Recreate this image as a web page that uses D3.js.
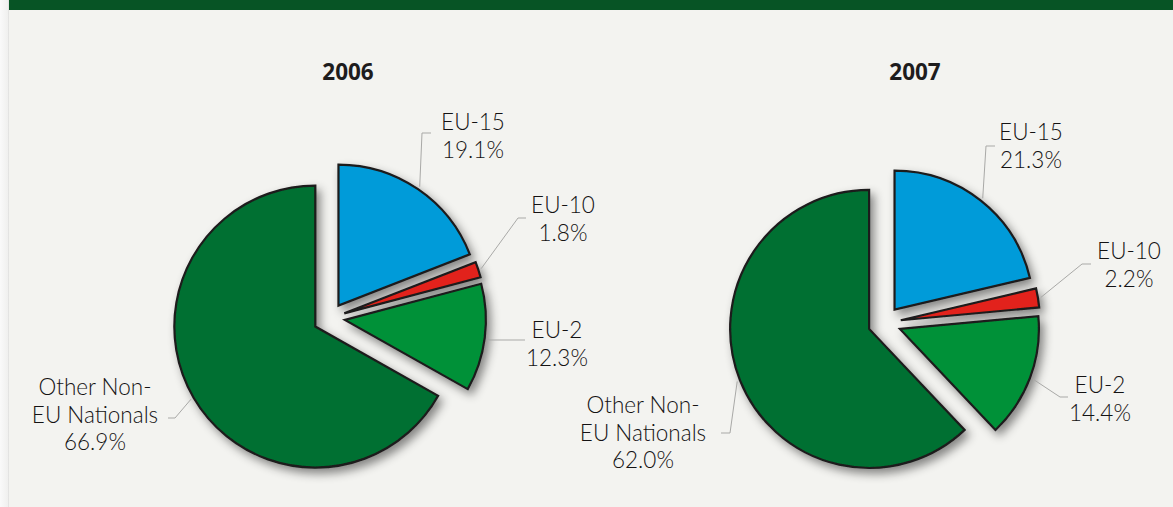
<!DOCTYPE html>
<html><head><meta charset="utf-8">
<script src="https://cdn.jsdelivr.net/npm/d3@7"></script>
<style>
html,body{margin:0;padding:0;background:#f8f8f7;}
svg{display:block;}
</style></head>
<body>
<script>
// ---- data ----
const categories = ["EU-15", "EU-10", "EU-2", "Other Non-EU Nationals"];
const labelLines = [["EU-15"], ["EU-10"], ["EU-2"], ["Other Non-", "EU Nationals"]];
const years = ["2006", "2007"];
const values2006 = [19.1, 1.8, 12.3, 66.9];
const values2007 = [21.3, 2.2, 14.4, 62.0];
const colors = ["#009bd9", "#e2231a", "#009139", "#006f31"];

// ---- layout (style only) ----
const W = 1173, H = 507;
const pies = [
  { year: years[0], values: values2006, cx: 330, cy: 318, r: 141, explode: [15, 15, 15, 17], titleX: 348,
    labels: [ {x: 473, y: 130, elbow: [422, 133], end: [431, 133]},
              {x: 563, y: 213, elbow: [518, 218], end: [526, 218]},
              {x: 557, y: 338, elbow: [489, 340], end: [525, 340]},
              {x: 95,  y: 395, elbow: [175, 418], end: [168, 418]} ] },
  { year: years[1], values: values2007, cx: 884, cy: 323, r: 139, explode: [17, 17, 17, 16], titleX: 915,
    labels: [ {x: 1031, y: 140, elbow: [986, 146], end: [995, 146]},
              {x: 1129, y: 259, elbow: [1082, 264], end: [1091, 264]},
              {x: 1100, y: 393, elbow: [1060, 397], end: [1068, 397]},
              {x: 643,  y: 413, elbow: [730, 433], end: [721, 433]} ] }
];

const svg = d3.select("body").append("svg").attr("width", W).attr("height", H);
const defs = svg.append("defs");
const f = defs.append("filter").attr("id", "shadow").attr("x", "-30%").attr("y", "-30%").attr("width", "160%").attr("height", "160%");
f.append("feDropShadow").attr("dx", 4).attr("dy", 5).attr("stdDeviation", 5)
  .attr("flood-color", "#000").attr("flood-opacity", 0.45);

const lg = defs.append("linearGradient").attr("id", "edge").attr("x1", 0).attr("x2", 1);
lg.append("stop").attr("offset", 0).attr("stop-color", "#fafafa");
lg.append("stop").attr("offset", 0.85).attr("stop-color", "#f0f0ef");
lg.append("stop").attr("offset", 1).attr("stop-color", "#dcdcdb");

// background
svg.append("rect").attr("x", 0).attr("y", 0).attr("width", 9).attr("height", H).attr("fill", "url(#edge)");
svg.append("rect").attr("x", 9).attr("y", 0).attr("width", W - 9).attr("height", H).attr("fill", "#f3f3f0");
svg.append("rect").attr("x", 9).attr("y", 0).attr("width", W - 9).attr("height", 10).attr("fill", "#075425");

const pie = d3.pie().sort(null).value(d => d);
const font = "Lato, 'Open Sans', sans-serif";

pies.forEach(p => {
  const g = svg.append("g");
  g.append("text").attr("x", p.titleX).attr("y", 80).attr("text-anchor", "middle")
    .attr("font-family", "'Open Sans', Lato, sans-serif").attr("font-weight", 700).attr("font-size", 22.5)
    .attr("fill", "#1e1c1d").text(p.year);

  const arcs = pie(p.values);
  const arc = d3.arc().innerRadius(0).outerRadius(p.r);
  const sg = g.append("g").attr("filter", "url(#shadow)");
  arcs.forEach((a, i) => {
    const mid = (a.startAngle + a.endAngle) / 2;
    const ox = p.cx + p.explode[i] * Math.sin(mid);
    const oy = p.cy - p.explode[i] * Math.cos(mid);
    sg.append("path").attr("d", arc(a)).attr("transform", `translate(${ox},${oy})`)
      .attr("fill", colors[i]).attr("stroke", "#1d1a1b").attr("stroke-width", 2.2)
      .attr("stroke-linejoin", "miter");
  });

  arcs.forEach((a, i) => {
    const mid = (a.startAngle + a.endAngle) / 2;
    const ox = p.cx + p.explode[i] * Math.sin(mid);
    const oy = p.cy - p.explode[i] * Math.cos(mid);
    const sx = ox + (p.r + 3) * Math.sin(mid), sy = oy - (p.r + 3) * Math.cos(mid);
    const L = p.labels[i];
    g.append("polyline").attr("points", [[sx, sy], L.elbow, L.end].map(q => q.join(",")).join(" "))
      .attr("fill", "none").attr("stroke", "#a9a9a7").attr("stroke-width", 1);
    const lines = labelLines[i].concat([d3.format(".1f")(a.data) + "%"]);
    const t = g.append("text").attr("text-anchor", "middle").attr("font-family", font)
      .attr("font-size", 22.5).attr("font-weight", 300).attr("fill", "#141213");
    lines.forEach((s, k) => t.append("tspan").attr("x", L.x).attr("y", L.y + k * 27.5).text(s));
  });
});
</script>
</body></html>
